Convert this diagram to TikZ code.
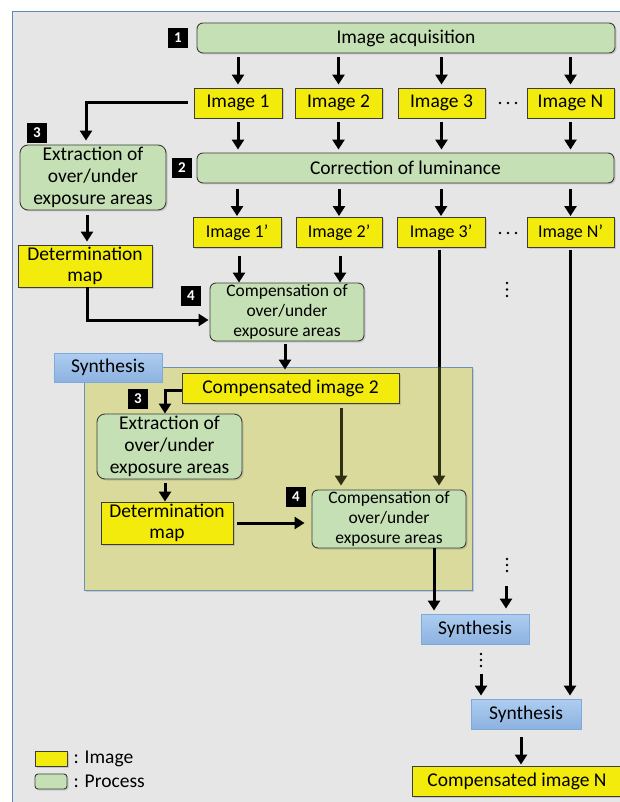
\documentclass[tikz,border=0pt]{standalone}
\usepackage{fontspec}
\setmainfont{Carlito}
\usetikzlibrary{arrows.meta,shadows,calc}
\definecolor{bggray}{HTML}{E6E6E6}
\definecolor{framecol}{HTML}{5B8CC0}
\definecolor{procgreen}{HTML}{C5E0B4}
\definecolor{imgyellow}{HTML}{F3EB0C}
\definecolor{synthtop}{HTML}{AECDF0}
\definecolor{synthbot}{HTML}{8DB2E0}
\definecolor{synthborder}{HTML}{7EA9DA}
\definecolor{panelcol}{HTML}{D9DA9B}
\definecolor{panelborder}{HTML}{6F90B5}
\definecolor{oliveline}{HTML}{2F2F14}
\definecolor{boxborder}{HTML}{3C3C3C}
\begin{document}
\begin{tikzpicture}[x=1pt,y=-1pt,
  shad/.style={drop shadow={shadow xshift=1.5pt,shadow yshift=-1.5pt,opacity=0.3}},
  base/.style={draw=boxborder, line width=0.9pt, inner sep=0pt, align=center, text=black, shad},
  proc/.style={base, fill=procgreen, rounded corners=6pt, font=\fontsize{19.5pt}{22pt}\selectfont},
  compbox/.style={proc, font=\fontsize{17.5pt}{20pt}\selectfont},
  img/.style={base, fill=imgyellow, font=\fontsize{19.5pt}{21pt}\selectfont},
  imgp/.style={img, font=\fontsize{18pt}{20pt}\selectfont},
  synth/.style={draw=synthborder, line width=0.9pt, top color=synthtop, bottom color=synthbot, inner sep=0pt, font=\fontsize{19.5pt}{22pt}\selectfont},
  numbox/.style={fill=black, text=white, minimum size=20pt, inner sep=0pt, font=\bfseries\fontsize{15pt}{15pt}\selectfont},
  panelbox/.style={draw=panelborder, line width=0.8pt, fill=panelcol, inner sep=0pt, shad},
  arr/.style={line width=3pt, -{Triangle[length=10pt,width=12pt]}},
  dotfill/.style={fill=black}
]
\useasboundingbox (0,0) rectangle (619,802);
\fill[white] (0,0) rectangle (619,802);
\draw[framecol, fill=bggray, line width=0.8pt] (12,11) rectangle (650,830);

% top row
\node[proc, minimum width=418pt, minimum height=30pt] (acq) at (406,38) {Image acquisition};
\node[numbox] (m1) at (178,38) {1};
\node[img, minimum width=88pt, minimum height=30pt] (i1) at (238,103) {Image 1};
\node[img, minimum width=87pt, minimum height=30pt] (i2) at (338.5,103) {Image 2};
\node[img, minimum width=87pt, minimum height=30pt] (i3) at (441.5,103) {Image 3};
\node[img, minimum width=87pt, minimum height=30pt] (iN) at (570.5,103) {Image N};
\foreach \xx in {500,508,516} \fill (\xx,103) circle (1.3pt);

\node[proc, minimum width=417pt, minimum height=30pt] (corr) at (405.5,168) {Correction of luminance};
\node[numbox] (m2) at (182,168) {2};

\node[numbox] (m3) at (37,133) {3};
\node[proc, rounded corners=8pt, minimum width=146pt, minimum height=65pt] (ext1) at (93,177.5) {Extraction of\\over/under\\exposure areas};

\node[imgp, minimum width=88pt, minimum height=30pt] (p1) at (237,232.5) {Image 1’};
\node[imgp, minimum width=86pt, minimum height=30pt] (p2) at (339,232.5) {Image 2’};
\node[imgp, minimum width=88pt, minimum height=30pt] (p3) at (441,232.5) {Image 3’};
\node[imgp, minimum width=87pt, minimum height=30pt] (pN) at (570.5,232.5) {Image N’};
\foreach \xx in {500,508,516} \fill (\xx,233) circle (1.3pt);

\node[img, minimum width=134pt, minimum height=42pt] (det1) at (85,266) {Determination\\map};
\node[compbox, minimum width=154pt, minimum height=58pt] (comp1) at (287,312) {Compensation of\\over/under\\exposure areas};
\node[numbox] (m4) at (191,296) {4};
\foreach \yy in {283,289.5,296} \fill (507,\yy) circle (1.3pt);

% panel
\node[panelbox, minimum width=388pt, minimum height=223pt] (panel) at (278,478.5) {};
\node[synth, minimum width=108pt, minimum height=29pt] (syn1) at (108,367.5) {Synthesis};
\node[img, minimum width=217pt, minimum height=30pt] (ci2) at (290.5,388) {Compensated image 2};
\node[numbox] (m3b) at (138,398.5) {3};
\node[proc, rounded corners=8pt, minimum width=145pt, minimum height=65pt] (ext2) at (169.5,446.5) {Extraction of\\over/under\\exposure areas};
\node[img, minimum width=132pt, minimum height=42pt] (det2) at (167,523) {Determination\\map};
\node[numbox] (m4b) at (296,497) {4};
\node[compbox, minimum width=154pt, minimum height=58pt] (comp2) at (389,519) {Compensation of\\over/under\\exposure areas};

% lower right
\node[synth, minimum width=108pt, minimum height=30pt] (syn2) at (475,629) {Synthesis};
\node[synth, minimum width=110pt, minimum height=30pt] (syn3) at (526,714) {Synthesis};
\node[img, minimum width=210pt, minimum height=30pt] (cin) at (517,781) {Compensated image N};
\foreach \yy in {559,565,571} \fill (507,\yy) circle (1.3pt);
\foreach \yy in {654,660,666} \fill (481,\yy) circle (1.3pt);
\coordinate (dA) at (506,586);
\coordinate (dB) at (481,674);

% legend
\node[img, minimum width=32pt, minimum height=15pt] (legimg) at (51,758.5) {};
\node[proc, rounded corners=3pt, minimum width=32pt, minimum height=15pt] (legproc) at (51,781.5) {};
\node[anchor=west, inner sep=0pt, font=\fontsize{19.5pt}{22pt}\selectfont] (legimgt) at ([xshift=6pt]legimg.east) {: Image};
\node[anchor=west, inner sep=0pt, font=\fontsize{19.5pt}{22pt}\selectfont] (legproct) at ([xshift=6pt]legproc.east) {: Process};

% arrows
\foreach \n in {i1,i2,i3,iN} \draw[arr, shorten <=4pt, shorten >=3pt] (acq.south -| \n.north) -- (\n.north);
\foreach \n in {i1,i2,i3,iN} \draw[arr, shorten <=4pt, shorten >=3pt] (\n.south) -- (\n.south |- corr.north);
\foreach \n in {p1,p2,p3,pN} \draw[arr, shorten <=6pt, shorten >=1pt] (corr.south -| \n.north) -- (\n.north);
\draw[arr, shorten <=6pt, shorten >=4pt] (i1.west) -| ([xshift=-7pt]ext1.north);
\draw[arr, shorten <=5pt, shorten >=3pt] ([xshift=-6pt]ext1.south) -- ([xshift=-6pt]ext1.south |- det1.north);
\draw[arr, shorten <=8pt, shorten >=0pt] ([xshift=2pt]p1.south) -- ([xshift=2pt]p1.south |- comp1.north);
\draw[arr, shorten <=8pt, shorten >=0pt] ([xshift=1pt]p2.south) -- ([xshift=1pt]p2.south |- comp1.north);
\draw[arr, shorten >=1pt] ([xshift=2pt]det1.south) |- ([yshift=-8pt]comp1.west);
\draw[arr, shorten <=3pt, shorten >=3pt] ([xshift=-2pt]comp1.south) -- ([xshift=-2pt]comp1.south |- ci2.north);
\draw[arr, shorten >=0pt] ([yshift=-2pt]ci2.west) -| ([xshift=-4.5pt]ext2.north);
\draw[arr, shorten <=4pt, shorten >=0pt] ([xshift=-4.5pt]ext2.south) -- ([xshift=-4.5pt]ext2.south |- det2.north);
\draw[arr, shorten <=4pt, shorten >=7pt] (det2.east) -- (det2.east -| comp2.west);
\draw[arr, draw=oliveline, shorten <=5pt, shorten >=4pt] ([xshift=50.5pt]ci2.south) -- ([xshift=50.5pt]ci2.south |- comp2.north);
\draw[line width=3pt, shorten <=2pt] ([xshift=-2pt]p3.south) -- ([xshift=-2pt]p3.south |- panel.north);
\draw[arr, draw=oliveline, shorten >=4pt] ([xshift=-2pt]p3.south |- panel.north) -- ([xshift=-2pt]p3.south |- comp2.north);
\draw[arr, shorten >=3pt] ([xshift=45pt]comp2.south) -- ([xshift=45pt]comp2.south |- syn2.north);
\draw[arr, shorten >=5pt] (dA) -- (dA |- syn2.north);
\draw[arr, shorten >=3pt] (dB) -- (dB |- syn3.north);
\draw[arr, shorten <=2pt, shorten >=3pt] ([xshift=-0.5pt]pN.south) -- ([xshift=-0.5pt]pN.south |- syn3.north);
\draw[arr, shorten <=8pt, shorten >=1pt] ([xshift=-5pt]syn3.south) -- ([xshift=-5pt]syn3.south |- cin.north);
\end{tikzpicture}
\end{document}
